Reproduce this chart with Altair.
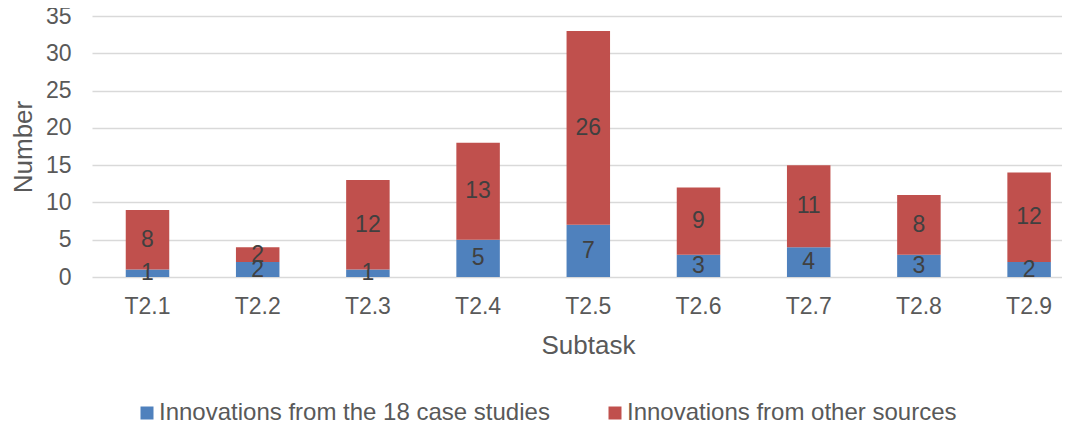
import altair as alt
import pandas as pd

subtasks = ["T2.1", "T2.2", "T2.3", "T2.4", "T2.5", "T2.6", "T2.7", "T2.8", "T2.9"]
case_studies = [1, 2, 1, 5, 7, 3, 4, 3, 2]
other_sources = [8, 2, 12, 13, 26, 9, 11, 8, 12]
series_names = ["Innovations from the 18 case studies", "Innovations from other sources"]
series_colors = ["#4F81BD", "#C0504D"]
y_ticks = [0, 5, 10, 15, 20, 25, 30, 35]

rows = []
for i, s in enumerate(subtasks):
    rows.append({"Subtask": s, "Series": series_names[0], "Value": case_studies[i], "order": 0})
    rows.append({"Subtask": s, "Series": series_names[1], "Value": other_sources[i], "order": 1})
df = pd.DataFrame(rows)

FONT = "Liberation Sans"
AX = "#595959"

base = alt.Chart(df).transform_stack(
    stack="Value", groupby=["Subtask"], as_=["y0", "y1"], sort=[alt.SortField("order")]
).transform_calculate(mid="(datum.y0 + datum.y1) / 2")

xscale = alt.Scale(paddingInner=0.6053, paddingOuter=0.2037, align=0.7517)
yscale = alt.Scale(domain=[0, 35], nice=False)

xaxis = alt.Axis(
    title="Subtask", labelAngle=0, ticks=False, domain=False, grid=False,
    labelFont=FONT, labelFontSize=23, labelColor=AX, labelPadding=18,
    titleFont=FONT, titleFontSize=26, titleColor=AX, titleFontWeight="normal",
    titleX=496, titleY=76, titleBaseline="alphabetic", titleAlign="center",
)
yaxis = alt.Axis(
    title="Number", values=y_ticks, ticks=False, domain=False, labelOverlap=False,
    gridColor="#D9D9D9", gridWidth=1.5,
    labelFont=FONT, labelFontSize=23, labelColor=AX, labelPadding=21,
    titleFont=FONT, titleFontSize=26, titleColor=AX, titleFontWeight="normal",
    titleX=-61, titleY=130.5, titleAngle=270, titleBaseline="alphabetic", titleAlign="center",
)

bars = base.mark_bar().encode(
    x=alt.X("Subtask:N", sort=subtasks, scale=xscale, axis=xaxis),
    y=alt.Y("y0:Q", scale=yscale, axis=yaxis),
    y2="y1:Q",
    color=alt.Color(
        "Series:N",
        scale=alt.Scale(domain=series_names, range=series_colors),
        sort=series_names,
        legend=alt.Legend(
            title=None, orient="none", direction="horizontal", legendX=43, legendY=385,
            symbolType="square", symbolSize=169, symbolStrokeWidth=0, symbolOpacity=1,
            labelFont=FONT, labelFontSize=24, labelColor=AX, labelOffset=0,
            columnPadding=53, padding=0, labelLimit=600,
        ),
    ),
    order=alt.Order("order:Q"),
)

labels = base.mark_text(font=FONT, fontSize=23, color="#404040", baseline="middle").encode(
    x=alt.X("Subtask:N", sort=subtasks, scale=xscale, axis=xaxis),
    y=alt.Y("mid:Q", scale=yscale, axis=yaxis),
    text=alt.Text("Value:Q"),
)

chart = alt.layer(bars, labels).properties(
    width=970,
    height=261,
    background="white",
    autosize=alt.AutoSizeParams(type="none"),
    padding={"left": 84, "top": 8, "right": 0, "bottom": 145},
).configure_view(stroke=None)

chart.save("out.html", embed_options={"renderer": "svg", "actions": False})
